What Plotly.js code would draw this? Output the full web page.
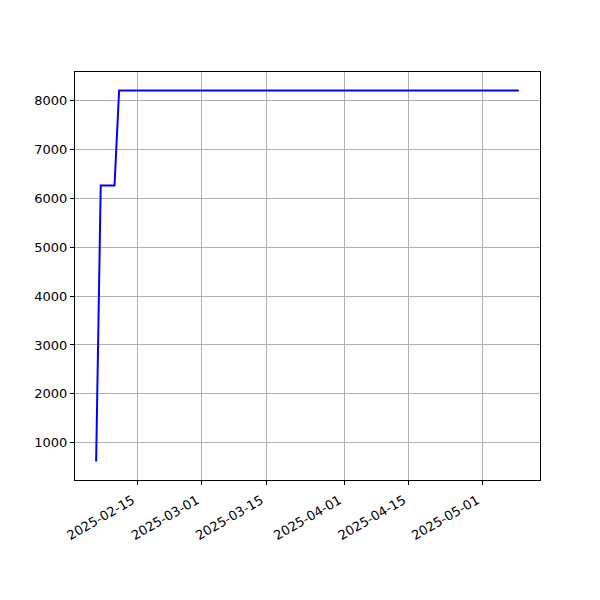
<!DOCTYPE html>
<html>
<head>
<meta charset="utf-8">
<script src="https://cdn.plot.ly/plotly-3.0.1.min.js"></script>
<style>html,body{margin:0;padding:0;background:#fff;}#chart{width:600px;height:600px;}</style>
</head>
<body>
<div id="chart"></div>
<script>
const dates = ["2025-02-06", "2025-02-07", "2025-02-10", "2025-02-11", "2025-05-09"];
const values = [620, 6260, 6260, 8200, 8200];
const xTicks = ["2025-02-15", "2025-03-01", "2025-03-15", "2025-04-01", "2025-04-15", "2025-05-01"];
const yTicks = [1000, 2000, 3000, 4000, 5000, 6000, 7000, 8000];

// matplotlib-like 5% margins
const t0 = new Date(dates[0] + "T00:00:00Z").getTime();
const t1 = new Date(dates[dates.length - 1] + "T00:00:00Z").getTime();
const pad = (t1 - t0) * 0.05;
const fmt = t => new Date(t).toISOString().replace("T", " ").replace("Z", "");
const ymin = Math.min(...values), ymax = Math.max(...values);
const ypad = (ymax - ymin) * 0.05;

const axisCommon = {
  showline: true, linecolor: "black", linewidth: 1, mirror: true,
  ticks: "outside", ticklen: 4, tickwidth: 1, tickcolor: "black",
  showgrid: true, gridcolor: "#b0b0b0", gridwidth: 1,
  zeroline: false,
  tickfont: {family: "DejaVu Sans", size: 13, color: "black"}
};

Plotly.newPlot("chart", [{
  x: dates, y: values, type: "scatter", mode: "lines",
  line: {color: "blue", width: 2}
}], {
  width: 600, height: 600,
  margin: {l: 75, r: 60, t: 72, b: 120},
  paper_bgcolor: "white", plot_bgcolor: "white",
  showlegend: false,
  xaxis: Object.assign({}, axisCommon, {
    type: "date",
    range: [fmt(t0 - pad), fmt(t1 + pad)],
    tickvals: xTicks, ticktext: xTicks,
    tickangle: -30,
    ticklabelshift: -5,
    ticklabelstandoff: 3
  }),
  yaxis: Object.assign({}, axisCommon, {
    range: [ymin - ypad, ymax + ypad],
    tickvals: yTicks, ticktext: yTicks.map(String)
  })
}, {displayModeBar: false, staticPlot: true});
</script>
</body>
</html>
